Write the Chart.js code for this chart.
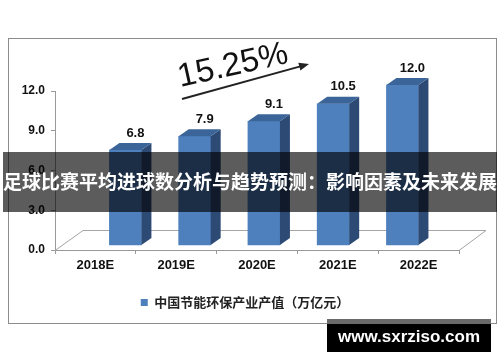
<!DOCTYPE html>
<html>
<head>
<meta charset="utf-8">
<script src="https://cdn.jsdelivr.net/npm/chart.js@4.4.1/dist/chart.umd.min.js"></script>
<style>
  html, body { margin: 0; padding: 0; background: #fff; }
</style>
</head>
<body>
<canvas id="chart" width="500" height="362"></canvas>
<script>
const categories = ['2018E', '2019E', '2020E', '2021E', '2022E'];
const outputValues = [6.8, 7.9, 9.1, 10.5, 12.0];
const yTicks = [0, 3, 6, 9, 12];
const seriesName = '中国节能环保产业产值（万亿元）';
const growthLabel = '15.25%';
const bannerText = '足球比赛平均进球数分析与趋势预测：影响因素及未来发展';
const watermark = 'www.sxrziso.com';

const LATIN = '"Liberation Sans", Arial, sans-serif';
const CJK = '"Noto Sans CJK SC", "Noto Sans", sans-serif';
const DEPTH_X = 10, DEPTH_Y = 7;

// frame, 3d floor, bar sides, labels and the overlays
const decor = {
    id: 'decor',
    beforeDraw(chart) {
        const ctx = chart.ctx;
        ctx.save();
        ctx.fillStyle = '#fff';
        ctx.fillRect(0, 0, chart.width, chart.height);
        ctx.strokeStyle = '#8c8c8c';
        ctx.lineWidth = 1;
        ctx.strokeRect(8.5, 38.5, 488, 285);
        ctx.restore();
    },
    beforeDatasetsDraw(chart) {
        const ctx = chart.ctx;
        const { left, right, bottom } = chart.chartArea;
        ctx.save();
        ctx.strokeStyle = '#a6a6a6';
        ctx.lineWidth = 1;
        ctx.beginPath();
        ctx.moveTo(left, bottom + 0.5);
        ctx.lineTo(left + 28, bottom - 19.5);
        ctx.lineTo(right + 27, bottom - 19.5);
        ctx.lineTo(right, bottom + 0.5);
        ctx.stroke();
        ctx.restore();
    },
    afterDatasetsDraw(chart) {
        const ctx = chart.ctx;
        const meta = chart.getDatasetMeta(0);
        ctx.save();
        meta.data.forEach((bar, i) => {
            const { x, y, base, width } = bar.getProps(['x', 'y', 'base', 'width'], true);
            const l = x - width / 2, r = x + width / 2;
            ctx.fillStyle = '#2d4a74';
            ctx.beginPath();
            ctx.moveTo(r, y);
            ctx.lineTo(r + DEPTH_X, y - DEPTH_Y);
            ctx.lineTo(r + DEPTH_X, base - DEPTH_Y);
            ctx.lineTo(r, base);
            ctx.closePath();
            ctx.fill();
            ctx.fillStyle = '#3b6498';
            ctx.beginPath();
            ctx.moveTo(l, y);
            ctx.lineTo(l + DEPTH_X, y - DEPTH_Y);
            ctx.lineTo(r + DEPTH_X, y - DEPTH_Y);
            ctx.lineTo(r, y);
            ctx.closePath();
            ctx.fill();

            ctx.fillStyle = '#111';
            ctx.font = 'bold 13px ' + LATIN;
            ctx.textAlign = 'center';
            ctx.textBaseline = 'middle';
            ctx.fillText(outputValues[i].toFixed(1), x + 10, y - 17);
        });
        ctx.restore();
    },
    afterDraw(chart) {
        const ctx = chart.ctx;
        ctx.save();

        // growth rate + arrow
        ctx.fillStyle = '#111';
        ctx.translate(233, 66);
        ctx.rotate(-12.5 * Math.PI / 180);
        ctx.font = '33px ' + LATIN;
        ctx.textAlign = 'center';
        ctx.textBaseline = 'middle';
        ctx.fillText(growthLabel, 0, 0);
        ctx.setTransform(1, 0, 0, 1, 0, 0);

        const x0 = 182, y0 = 99, x1 = 309, y1 = 64;
        const ang = Math.atan2(y1 - y0, x1 - x0);
        ctx.strokeStyle = '#222';
        ctx.lineWidth = 2;
        ctx.beginPath();
        ctx.moveTo(x0, y0);
        ctx.lineTo(x1 - 8 * Math.cos(ang), y1 - 8 * Math.sin(ang));
        ctx.stroke();
        ctx.fillStyle = '#222';
        ctx.beginPath();
        ctx.moveTo(x1, y1);
        ctx.lineTo(x1 - 10 * Math.cos(ang) + 4 * Math.sin(ang), y1 - 10 * Math.sin(ang) - 4 * Math.cos(ang));
        ctx.lineTo(x1 - 10 * Math.cos(ang) - 4 * Math.sin(ang), y1 - 10 * Math.sin(ang) + 4 * Math.cos(ang));
        ctx.closePath();
        ctx.fill();

        // title banner
        ctx.fillStyle = 'rgba(0,0,0,0.64)';
        ctx.fillRect(3, 152, 494, 60);
        ctx.fillStyle = '#fff';
        ctx.font = 'bold 19px ' + CJK;
        ctx.textAlign = 'center';
        ctx.textBaseline = 'middle';
        ctx.fillText(bannerText, 250, 182);

        // site watermark
        ctx.fillStyle = '#6a6a6a';
        ctx.fillRect(327, 319, 164, 5);
        ctx.fillStyle = '#000';
        ctx.fillRect(327, 324, 164, 28);
        ctx.fillStyle = '#fff';
        ctx.font = 'bold 17px ' + LATIN;
        ctx.fillText(watermark, 409, 337);

        ctx.restore();
    }
};

new Chart(document.getElementById('chart'), {
    type: 'bar',
    data: {
        labels: categories,
        datasets: [{
            label: seriesName,
            data: outputValues.map((v, i) => ({ x: i, y: v })),
            xAxisID: 'xb',
            yAxisID: 'yb',
            base: -0.8,
            barThickness: 32,
            backgroundColor: '#4f80be',
            borderWidth: 0,
            clip: false
        }]
    },
    options: {
        responsive: false,
        animation: false,
        layout: { padding: { top: 91, left: 0, right: 10, bottom: 43 } },
        scales: {
            x: {
                type: 'category',
                offset: true,
                grid: { drawOnChartArea: false, tickLength: 4, color: '#999', offset: true },
                border: { color: '#999' },
                ticks: { color: '#111', padding: 4, font: { family: LATIN, size: 13, weight: 'bold' } },
                afterFit: s => { s.height = 36; }
            },
            y: {
                type: 'linear',
                min: 0,
                max: 12,
                afterBuildTicks: s => { s.ticks = yTicks.map(v => ({ value: v })); },
                grid: { drawOnChartArea: false, tickLength: 4, color: '#999' },
                border: { color: '#999' },
                ticks: {
                    color: '#111',
                    padding: 6,
                    font: { family: LATIN, size: 12, weight: 'bold' },
                    callback: v => Number(v).toFixed(1)
                },
                afterFit: s => { s.width = 55; }
            },
            xb: { type: 'linear', display: false, min: -0.6, max: 4.4 },
            yb: {
                type: 'linear',
                position: 'right',
                min: -1.2,
                max: 11.52,
                grid: { display: false },
                border: { display: false },
                ticks: { display: false },
                afterFit: s => { s.width = 31; }
            }
        },
        plugins: {
            legend: {
                position: 'bottom',
                labels: {
                    boxWidth: 7,
                    boxHeight: 7,
                    padding: 10,
                    color: '#222',
                    font: { family: CJK, size: 13, weight: 'bold' }
                }
            },
            tooltip: { enabled: false }
        }
    },
    plugins: [decor]
});
</script>
</body>
</html>
